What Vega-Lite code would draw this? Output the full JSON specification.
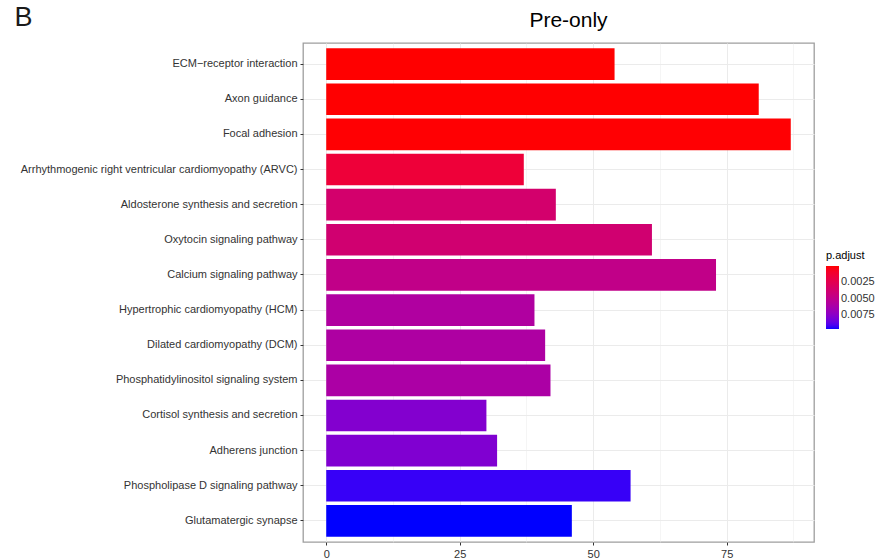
{
  "$schema": "https://vega.github.io/schema/vega-lite/v6.json",
  "width": 511,
  "height": 499,
  "autosize": {"type": "none"},
  "padding": {"left": 303, "top": 43, "right": 66, "bottom": 18},
  "background": "white",
  "title": {
    "text": "Pre-only",
    "font": "Liberation Sans",
    "fontSize": 21,
    "fontWeight": "normal",
    "color": "#000000",
    "anchor": "middle",
    "frame": "group",
    "dx": 10,
    "offset": -28
  },
  "config": {
    "view": {"stroke": "#9E9E9E", "strokeWidth": 1.3},
    "axis": {"labelFont": "Liberation Sans", "titleFont": "Liberation Sans"},
    "legend": {"labelFont": "Liberation Sans", "titleFont": "Liberation Sans"}
  },
  "data": {
    "values": [
      {"pathway": "ECM−receptor interaction", "count": 54, "p_adjust": 0.00001},
      {"pathway": "Axon guidance", "count": 81, "p_adjust": 0.00003},
      {"pathway": "Focal adhesion", "count": 87, "p_adjust": 0.00005},
      {"pathway": "Arrhythmogenic right ventricular cardiomyopathy (ARVC)", "count": 37, "p_adjust": 0.0015},
      {"pathway": "Aldosterone synthesis and secretion", "count": 43, "p_adjust": 0.0036},
      {"pathway": "Oxytocin signaling pathway", "count": 61, "p_adjust": 0.0038},
      {"pathway": "Calcium signaling pathway", "count": 73, "p_adjust": 0.0048},
      {"pathway": "Hypertrophic cardiomyopathy (HCM)", "count": 39, "p_adjust": 0.0058},
      {"pathway": "Dilated cardiomyopathy (DCM)", "count": 41, "p_adjust": 0.0059},
      {"pathway": "Phosphatidylinositol signaling system", "count": 42, "p_adjust": 0.0060},
      {"pathway": "Cortisol synthesis and secretion", "count": 30, "p_adjust": 0.0077},
      {"pathway": "Adherens junction", "count": 32, "p_adjust": 0.0078},
      {"pathway": "Phospholipase D signaling pathway", "count": 57, "p_adjust": 0.0093},
      {"pathway": "Glutamatergic synapse", "count": 46, "p_adjust": 0.0096}
    ]
  },
  "mark": {"type": "bar"},
  "encoding": {
    "y": {
      "field": "pathway",
      "type": "nominal",
      "sort": null,
      "scale": {"paddingInner": 0.1, "paddingOuter": 0.15},
      "axis": {
        "title": "B",
        "titleAngle": 0,
        "titleX": -289,
        "titleY": -18,
        "titleAlign": "left",
        "titleBaseline": "alphabetic",
        "titleFontSize": 27,
        "titleFontWeight": "normal",
        "titleColor": "#1A1A1A",
        "labelFontSize": 11,
        "labelColor": "#333333",
        "labelPadding": 3,
        "tickSize": 3,
        "tickColor": "#333333",
        "domain": false,
        "grid": true,
        "gridColor": "#EBEBEB",
        "gridWidth": 1,
        "labelLimit": 400
      }
    },
    "x": {
      "field": "count",
      "type": "quantitative",
      "scale": {"domain": [-4.35, 91.35], "nice": false, "zero": false},
      "axis": {
        "title": null,
        "values": [0, 12.5, 25, 37.5, 50, 62.5, 75, 87.5],
        "labelExpr": "datum.value % 25 == 0 ? datum.label : ''",
        "labelFontSize": 11,
        "labelColor": "#333333",
        "labelPadding": 3,
        "tickSize": 3,
        "tickColor": {"condition": {"test": "datum.value % 25 == 0", "value": "#333333"}, "value": "transparent"},
        "domain": false,
        "grid": true,
        "gridColor": "#EBEBEB",
        "gridWidth": {"condition": {"test": "datum.value % 25 == 0", "value": 1}, "value": 0.5}
      }
    },
    "color": {
      "field": "p_adjust",
      "type": "quantitative",
      "scale": {"domain": [0.0096, 0.00001], "range": ["blue", "red"], "interpolate": "lab"},
      "legend": {
        "title": "p.adjust",
        "orient": "none",
        "legendX": 523,
        "legendY": 207,
        "titleFontSize": 11,
        "titleFontWeight": "normal",
        "titleColor": "#000000",
        "titlePadding": 5,
        "labelFontSize": 11,
        "labelColor": "#333333",
        "values": [0.0025, 0.005, 0.0075],
        "format": ".4f",
        "gradientLength": 63,
        "gradientThickness": 13,
        "gradientStrokeWidth": 0
      }
    }
  }
}
